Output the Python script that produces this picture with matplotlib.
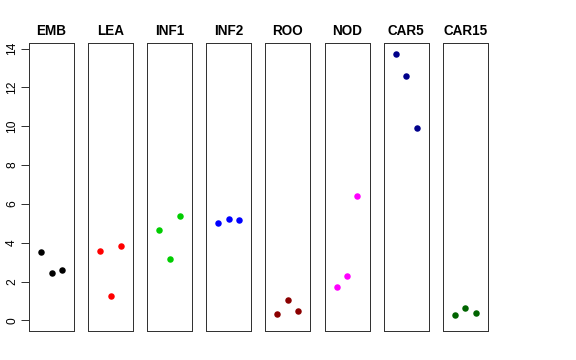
import numpy as np
import matplotlib
matplotlib.use("Agg")
import matplotlib.pyplot as plt

plt.rcParams['font.family'] = ['Liberation Sans', 'DejaVu Sans']

tissues = ["EMB", "LEA", "INF1", "INF2", "ROO", "NOD", "CAR5", "CAR15"]
colors = ["black", "red", "#00CD00", "blue", "#8B0000", "magenta", "#00008B", "#006400"]
emb = [3.51, 2.46, 2.61]
lea = [3.59, 1.24, 3.82]
inf1 = [4.64, 3.18, 5.37]
inf2 = [5.04, 5.21, 5.16]
roo = [0.31, 1.07, 0.50]
nod = [1.74, 2.29, 6.40]
car5 = [13.74, 12.57, 9.91]
car15 = [0.26, 0.65, 0.38]
values = [emb, lea, inf1, inf2, roo, nod, car5, car15]
yticks = [0, 2, 4, 6, 8, 10, 12, 14]

W, H = 576, 360
fig = plt.figure(figsize=(W / 72, H / 72), dpi=72)

left0, step, pw = 29, 59.1, 45
top, bottom = 43, 331
ymax = max(max(v) for v in values)

for i, (name, vals, col) in enumerate(zip(tissues, values, colors)):
    x0 = left0 + i * step
    ax = fig.add_axes([x0 / W, 1 - bottom / H, pw / W, (bottom - top) / H])
    ax.scatter([1, 2, 3], vals, color=col, s=42, zorder=3, linewidths=0)
    ax.set_xlim(-0.16, 4.16)
    ext = 0.04 * ymax
    ax.set_ylim(-ext, ymax + ext)
    ax.set_xticks([])
    for s in ax.spines.values():
        s.set_linewidth(1.0)
        s.set_color("#333333")
    ax.set_title(name, fontsize=13.5, fontweight="bold", pad=8)
    if i == 0:
        ax.set_yticks(yticks)
        ax.set_yticklabels([str(t) for t in yticks], rotation=90, va="center", fontsize=12)
        ax.tick_params(axis="y", length=8, width=1.0, color="#333333", pad=3)
    else:
        ax.set_yticks([])

fig.savefig("out.png", dpi=72)
